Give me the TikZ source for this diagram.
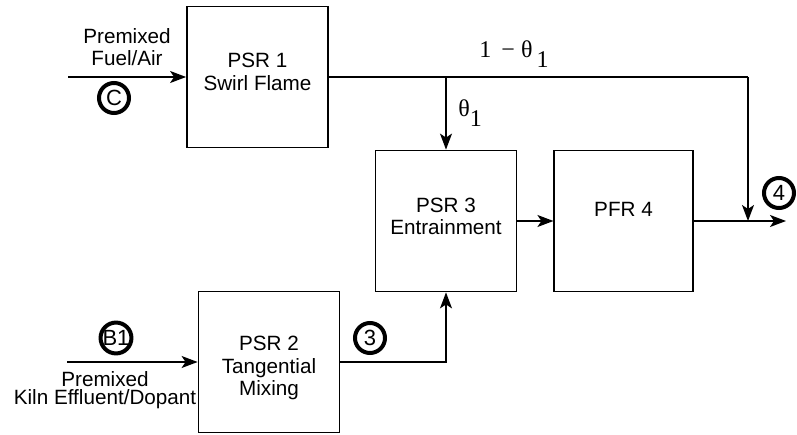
\documentclass[tikz,border=0pt]{standalone}
\usepackage{fontspec}
\setmainfont{Liberation Sans}
\newfontfamily\greekfont{Liberation Serif}
\usetikzlibrary{arrows.meta}

\begin{document}
\begin{tikzpicture}[x=0.75pt,y=-0.75pt,
  box/.style={rectangle,draw,line width=1.1pt,minimum width=106pt,
              minimum height=106pt,align=center,
              font=\fontsize{15.5}{17}\selectfont},
  tag/.style={circle,draw,line width=3pt,inner sep=0pt,minimum size=22.5pt,
              font=\fontsize{16.5}{17}\selectfont},
  note/.style={align=center,font=\fontsize{15.5}{17}\selectfont},
  greek/.style={font=\greekfont\fontsize{18}{20}\selectfont},
  flow/.style={line width=1.1pt,-{Stealth[length=12pt,width=9pt,inset=3pt]}},
]
  \useasboundingbox (0,0) rectangle (797,435);

  % reactors
  \node[box] (psr1) at (257.5,77) {PSR 1\\Swirl Flame\\[-9pt]~};
  \node[box] (psr3) at (446,221) {PSR 3\\Entrainment\\[-10pt]~};
  \node[box,minimum width=104pt] (pfr4) at (623.5,221) {PFR 4\\~};
  \node[box] (psr2) at (269,362) {~\\[3pt]PSR 2\\Tangential\\Mixing};

  % stream tags and labels
  \node[note] (fuel) at (127,47) {Premixed\\Fuel/Air};
  \node[tag] (tagC) at (114,98) {C};
  \node[tag] (tagB) at (116,338) {B1};
  \node[note,font=\fontsize{15.5}{14}\selectfont] (kiln) at (105,390)
       {Premixed\\Kiln Effluent/Dopant};
  \node[tag] (tag3) at (370,338) {3};
  \node[tag] (tag4) at (779,193) {4};
  \node[greek] (bypass) at (514,54) {1 \,− θ\raisebox{-8pt}{\,1}};
  \node[greek] (split) at (470,113) {θ\raisebox{-8pt}{1}};

  % free ends
  \coordinate (inC) at (68,77);
  \coordinate (inB) at (67,362);
  \coordinate (fork) at (446,77);
  \coordinate (drop) at (748,77);
  \coordinate (join) at (748,221);
  \coordinate (out) at (786,221);

  % streams
  \draw[flow] (inC) -- (psr1.west);
  \draw[flow] (inB) -- (psr2.west);
  \draw[line width=1.1pt] (psr1.east) -- (drop);
  \draw[flow] (drop) -- (join);
  \draw[flow] (fork) -- (psr3.north);
  \draw[flow] (psr3.east) -- (pfr4.west);
  \draw[flow] (pfr4.east) -- (out);
  \draw[flow] (psr2.east) -| (psr3.south);
\end{tikzpicture}
\end{document}
